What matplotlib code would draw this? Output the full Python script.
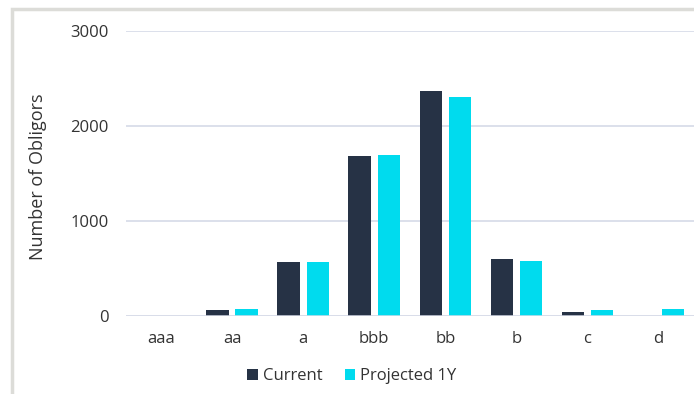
import numpy as np
import matplotlib.pyplot as plt
from matplotlib.patches import Rectangle, Patch

plt.rcParams['font.family'] = ['Open Sans', 'DejaVu Sans']

grades = ['aaa', 'aa', 'a', 'bbb', 'bb', 'b', 'c', 'd']
current = [0, 68, 573, 1685, 2365, 603, 42, 0]
projected = [0, 78, 563, 1692, 2300, 575, 60, 70]

c_current = '#263245'
c_proj = '#00dbee'
grid_col = '#d9dde9'
text_col = '#333333'

fig = plt.figure(figsize=(6.94, 3.94), dpi=100)

# light frame around the whole chart (runs off the right and bottom edges)
fig.patches.append(Rectangle((12 / 694, -0.1), 1.2, 1 - 9 / 394 + 0.1,
                             transform=fig.transFigure, fill=False,
                             edgecolor='#dcdcd8', linewidth=2.5))

ax = fig.add_axes([125.5 / 694, 1 - 316 / 394, (694 - 125.5) / 694, (316 - 30.7) / 394])

x = np.arange(len(grades))
w = 0.315
off = 0.205
ax.bar(x - off, current, w, color=c_current, zorder=3)
ax.bar(x + off, projected, w, color=c_proj, zorder=3)

ax.set_xlim(-0.5, len(grades) - 0.5)
ax.set_ylim(0, 3000)
ax.set_yticks([0, 1000, 2000, 3000])
ax.set_xticks(x)
ax.set_xticklabels(grades)
ax.yaxis.grid(True, color=grid_col, linewidth=1.3, zorder=0)
ax.axhline(0, color=grid_col, linewidth=1.8, zorder=4)
for s in ax.spines.values():
    s.set_visible(False)
ax.tick_params(axis='both', length=0, labelsize=12, colors=text_col)
ax.tick_params(axis='y', pad=12)
ax.tick_params(axis='x', pad=11)

fig.text(38 / 694, 1 - 177 / 394, 'Number of Obligors', rotation=90,
         ha='center', va='center', fontsize=13, color=text_col)

handles = [Patch(facecolor=c_current), Patch(facecolor=c_proj)]
fig.legend(handles, ['Current', 'Projected 1Y'], loc='center',
           bbox_to_anchor=(352 / 694, 1 - 376 / 394), ncol=2, frameon=False,
           fontsize=12, handlelength=0.65, handleheight=0.65, handletextpad=0.3,
           columnspacing=1.3, labelcolor=text_col)

fig.savefig('out.png', dpi=100)
